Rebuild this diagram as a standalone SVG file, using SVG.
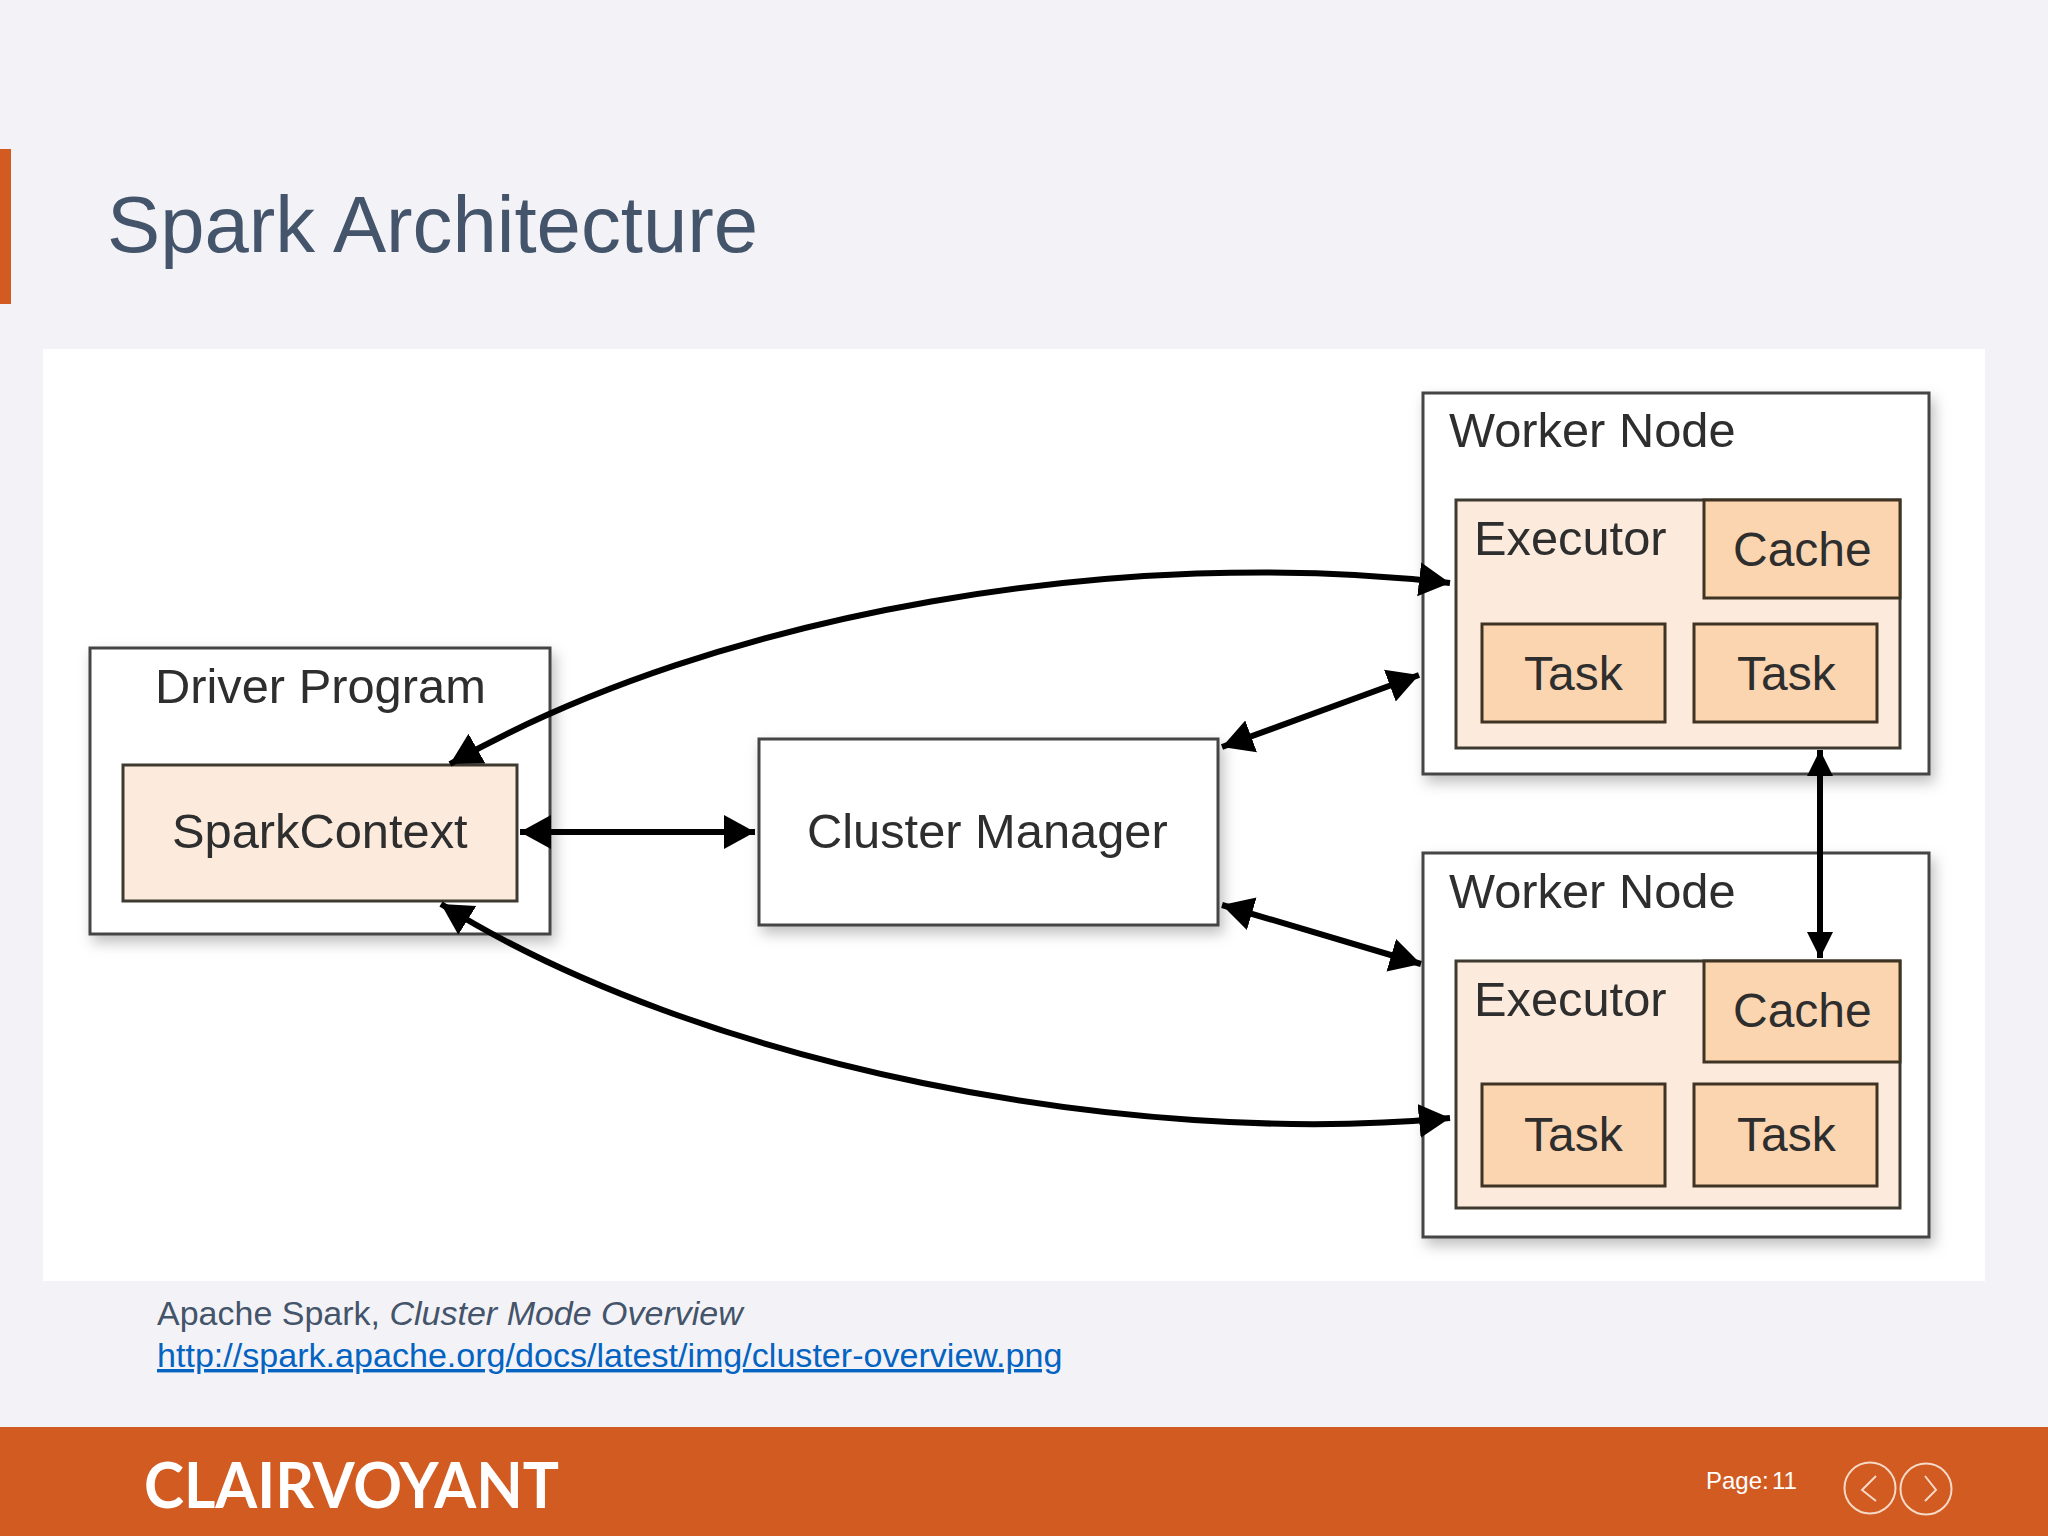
<svg xmlns="http://www.w3.org/2000/svg" width="2048" height="1536" viewBox="0 0 2048 1536">
<style>
text{font-family:"Liberation Sans",Arial,sans-serif}
.box{stroke:#454545;stroke-width:3;fill:#fff}
.sh{filter:url(#sh)}
.exec{fill:#fcebdd;stroke:#3f3a30;stroke-width:3}
.sub{fill:#fbd5b0;stroke:#3f3424;stroke-width:3}
.lb{font-size:48.8px;fill:#2e2e2e}
.sm{font-size:48px}
.con{fill:none;stroke:#000;stroke-width:6;marker-start:url(#ah);marker-end:url(#ah)}
.v{marker-start:url(#ahs);marker-end:url(#ahs)}
</style>
<defs>
<marker id="ah" markerUnits="userSpaceOnUse" markerWidth="33" markerHeight="36" refX="31" refY="18" orient="auto-start-reverse"><path d="M0 1L31 18L0 35z" fill="#000"/></marker>
<marker id="ahs" markerUnits="userSpaceOnUse" markerWidth="27" markerHeight="28" refX="26" refY="14" orient="auto-start-reverse"><path d="M0 1L26 14L0 27z" fill="#000"/></marker>
<filter id="sh" x="-10%" y="-10%" width="125%" height="125%"><feDropShadow dx="4" dy="7" stdDeviation="7" flood-color="#000" flood-opacity=".25"/></filter>
</defs>
<rect width="2048" height="1536" fill="#f3f3f7"/>
<rect id="accent" x="0" y="149" width="11" height="155" fill="#d25b22"/>
<text id="title" x="107" y="252" font-size="79.7" fill="#44546a">Spark Architecture</text>
<rect id="panel" x="43" y="349" width="1942" height="932" fill="#fff"/>
<g id="driver"><rect class="box sh" x="90" y="648" width="460" height="286"/>
<text class="lb" x="155" y="703">Driver Program</text></g>
<g id="sparkcontext"><rect class="exec" x="123" y="765" width="394" height="136"/>
<text class="lb" x="172" y="848">SparkContext</text></g>
<g id="cluster-manager"><rect class="box sh" x="759" y="739" width="459" height="186"/>
<text class="lb" x="807" y="848">Cluster Manager</text></g>
<g id="worker1"><rect class="box sh" x="1423" y="393" width="506" height="381"/>
<text class="lb" x="1449" y="447">Worker Node</text>
<rect class="exec" x="1456" y="500" width="444" height="248"/>
<text class="lb" x="1474" y="555">Executor</text>
<rect class="sub" x="1704" y="500" width="196" height="98"/>
<text class="lb sm" x="1733" y="566">Cache</text>
<rect class="sub" x="1482" y="624" width="183" height="98"/>
<text class="lb sm" x="1524" y="690">Task</text>
<rect class="sub" x="1694" y="624" width="183" height="98"/>
<text class="lb sm" x="1737" y="690">Task</text></g>
<g id="worker2"><rect class="box sh" x="1423" y="853" width="506" height="384"/>
<text class="lb" x="1449" y="908">Worker Node</text>
<rect class="exec" x="1456" y="961" width="444" height="247"/>
<text class="lb" x="1474" y="1016">Executor</text>
<rect class="sub" x="1704" y="961" width="196" height="101"/>
<text class="lb sm" x="1733" y="1027">Cache</text>
<rect class="sub" x="1482" y="1084" width="183" height="102"/>
<text class="lb sm" x="1524" y="1151">Task</text>
<rect class="sub" x="1694" y="1084" width="183" height="102"/>
<text class="lb sm" x="1737" y="1151">Task</text></g>
<g id="connectors">
<path class="con" d="M450 764C720 610 1130 545 1450 583"/>
<path class="con" d="M441 904C700 1066 1130 1148 1450 1118"/>
<path class="con" d="M520 832H755"/>
<path class="con" d="M1222 747L1419 675"/>
<path class="con" d="M1222 905L1421 964"/>
<path class="con v" d="M1820 750V958"/>
</g>
<text id="caption" x="157" y="1325" font-size="34" fill="#44546a">Apache Spark, <tspan font-style="italic">Cluster Mode Overview</tspan></text>
<text id="link" x="157" y="1367" font-size="34.1" fill="#0563c1" text-decoration="underline">http://spark.apache.org/docs/latest/img/cluster-overview.png</text>
<rect id="footer" x="0" y="1427" width="2048" height="109" fill="#d25b22"/>
<text id="logo" x="144" y="1508" font-size="63" font-weight="700" fill="#fff" textLength="415" lengthAdjust="spacingAndGlyphs" style="font-family:Lato,sans-serif">CLAIRVOYANT</text>
<text id="page" x="1706" y="1489" font-size="24" fill="#fff" word-spacing="-3.5">Page: 11</text>
<g id="nav" fill="none" stroke="#f6d9c6" stroke-width="2">
<circle cx="1870" cy="1488" r="25.5"/><circle cx="1926" cy="1489" r="25.5"/>
<path d="M1876 1476L1862 1490L1876 1501M1925 1476L1936 1490L1925 1501"/>
</g>
</svg>
